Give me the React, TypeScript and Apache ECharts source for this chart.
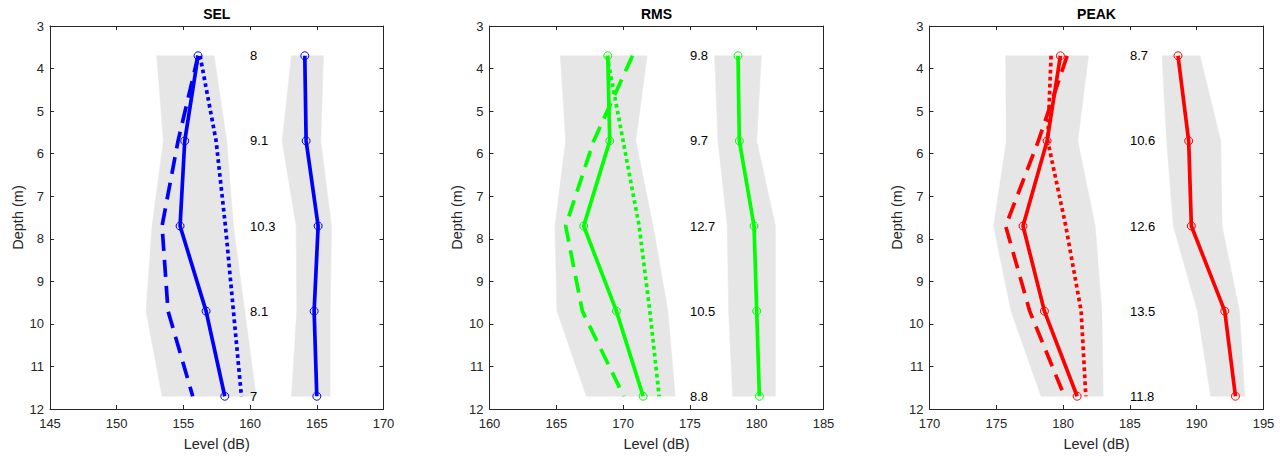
import React, { useEffect, useRef } from "react";
import * as echarts from "echarts";

const depths = [3.7, 5.7, 7.7, 9.7, 11.7];
const panelTitles = ["SEL", "RMS", "PEAK"];
const xMins = [145, 160, 170];
const xMaxs = [170, 185, 195];
const colors = ["#0000ff", "#00ff00", "#ff0000"];

// SEL
const selSolid = [156.1, 155.1, 154.75, 156.7, 158.1];
const selDashed = [156.1, 154.6, 153.4, 153.85, 155.7];
const selDotted = [156.25, 157.45, 158.15, 158.75, 159.35];
const selBandLow = [153.0, 153.5, 152.65, 152.2, 153.4];
const selBandHigh = [157.3, 158.25, 158.75, 159.6, 160.45];
const selRight = [164.1, 164.2, 165.1, 164.8, 165.0];
const selRightLow = [163.1, 162.4, 163.45, 163.5, 163.1];
const selRightHigh = [165.5, 165.3, 166.1, 166.0, 166.0];
const selNoteX = 160;
const selNotes = ["8", "9.1", "10.3", "8.1", "7"];

// RMS
const rmsSolid = [168.85, 169.0, 167.05, 169.5, 171.5];
const rmsDashed = [170.7, 167.8, 165.7, 166.95, 170.05];
const rmsDotted = [168.8, 170.0, 171.2, 172.0, 172.7];
const rmsBandLow = [165.3, 165.7, 164.9, 165.05, 167.25];
const rmsBandHigh = [171.8, 170.95, 172.25, 173.35, 173.9];
const rmsRight = [178.6, 178.7, 179.8, 180.0, 180.2];
const rmsRightLow = [176.85, 177.1, 177.8, 177.9, 178.2];
const rmsRightHigh = [180.35, 180.0, 181.4, 181.4, 181.4];
const rmsNoteX = 175;
const rmsNotes = ["9.8", "9.7", "12.7", "10.5", "8.8"];

// PEAK
const peakSolid = [179.8, 178.8, 177.0, 178.6, 181.05];
const peakDashed = [180.3, 178.15, 175.7, 177.5, 180.1];
const peakDotted = [179.1, 178.85, 180.2, 181.35, 181.7];
const peakBandLow = [175.7, 175.75, 174.8, 176.1, 178.35];
const peakBandHigh = [181.9, 181.1, 182.4, 182.9, 183.0];
const peakRight = [188.6, 189.4, 189.6, 192.1, 192.9];
const peakRightLow = [187.4, 187.75, 188.25, 190.05, 191.05];
const peakRightHigh = [190.25, 191.8, 191.9, 193.2, 193.6];
const peakNoteX = 185;
const peakNotes = ["8.7", "10.6", "12.6", "13.5", "11.8"];

const panels = [
  { solid: selSolid, dashed: selDashed, dotted: selDotted, bandLow: selBandLow, bandHigh: selBandHigh, right: selRight, rightLow: selRightLow, rightHigh: selRightHigh, noteX: selNoteX, notes: selNotes },
  { solid: rmsSolid, dashed: rmsDashed, dotted: rmsDotted, bandLow: rmsBandLow, bandHigh: rmsBandHigh, right: rmsRight, rightLow: rmsRightLow, rightHigh: rmsRightHigh, noteX: rmsNoteX, notes: rmsNotes },
  { solid: peakSolid, dashed: peakDashed, dotted: peakDotted, bandLow: peakBandLow, bandHigh: peakBandHigh, right: peakRight, rightLow: peakRightLow, rightHigh: peakRightHigh, noteX: peakNoteX, notes: peakNotes },
];

const FONT = "'Liberation Sans', Arial, Helvetica, sans-serif";
const AXIS = "#262626";
const gridLefts = [50, 489.5, 929.5];
const gridWidths = [333.5, 334, 334];
const GRID_TOP = 26;
const GRID_H = 385.3;
const LW = 3.7;

function buildOption() {
  const grid: any[] = [];
  const xAxis: any[] = [];
  const yAxis: any[] = [];
  const series: any[] = [];
  const title: any[] = [];

  panels.forEach((p, g) => {
    grid.push({ left: gridLefts[g], top: GRID_TOP, width: gridWidths[g], height: GRID_H, containLabel: false });
    title.push({
      text: panelTitles[g],
      left: gridLefts[g] + gridWidths[g] / 2,
      top: 7,
      textAlign: "center",
      padding: 0,
      textStyle: { fontFamily: FONT, fontSize: 14, fontWeight: "bold", color: "#000" },
    });
    const tickCommon = { show: true, inside: true, length: 4, lineStyle: { color: AXIS, width: 1 } };
    xAxis.push({
      type: "value", gridIndex: g, position: "bottom", min: xMins[g], max: xMaxs[g], interval: 5,
      axisLine: { show: true, onZero: false, lineStyle: { color: AXIS, width: 1 } },
      axisTick: tickCommon,
      axisLabel: { color: AXIS, fontFamily: FONT, fontSize: 13, margin: 8 },
      splitLine: { show: false },
      name: "Level (dB)", nameLocation: "middle", nameGap: 27,
      nameTextStyle: { color: AXIS, fontFamily: FONT, fontSize: 14.5 },
    });
    xAxis.push({
      type: "value", gridIndex: g, position: "top", min: xMins[g], max: xMaxs[g], interval: 5,
      axisLine: { show: true, onZero: false, lineStyle: { color: AXIS, width: 1 } },
      axisTick: tickCommon, axisLabel: { show: false }, splitLine: { show: false },
    });
    yAxis.push({
      type: "value", gridIndex: g, position: "left", min: 3, max: 12, interval: 1, inverse: true,
      axisLine: { show: true, onZero: false, lineStyle: { color: AXIS, width: 1 } },
      axisTick: tickCommon,
      axisLabel: { color: AXIS, fontFamily: FONT, fontSize: 13, margin: 6 },
      splitLine: { show: false },
      name: "Depth (m)", nameLocation: "middle", nameGap: 25,
      nameTextStyle: { color: AXIS, fontFamily: FONT, fontSize: 14.5 },
    });
    yAxis.push({
      type: "value", gridIndex: g, position: "right", min: 3, max: 12, interval: 1, inverse: true,
      axisLine: { show: true, onZero: false, lineStyle: { color: AXIS, width: 1 } },
      axisTick: tickCommon, axisLabel: { show: false }, splitLine: { show: false },
    });

    const xi = g * 2;
    const yi = g * 2;
    const band = (low: number[], high: number[]) => ({
      type: "custom", xAxisIndex: xi, yAxisIndex: yi, silent: true, z: 1,
      data: [[low[0], depths[0]]],
      renderItem: (_params: any, api: any) => {
        const pts: number[][] = [];
        depths.forEach((d, k) => pts.push(api.coord([low[k], d])));
        for (let k = depths.length - 1; k >= 0; k--) pts.push(api.coord([high[k], depths[k]]));
        return { type: "polygon", shape: { points: pts }, style: { fill: "#e6e6e6", stroke: "#e6e6e6", lineWidth: 0.5 } };
      },
    });
    series.push(band(p.bandLow, p.bandHigh));
    series.push(band(p.rightLow, p.rightHigh));

    const line = (vals: number[], type: any, markers: boolean) => ({
      type: "line", xAxisIndex: xi, yAxisIndex: yi, z: 3,
      data: vals.map((v, k) => [v, depths[k]]),
      symbol: markers ? "circle" : "none",
      symbolSize: 8,
      showSymbol: markers,
      itemStyle: { color: "rgba(0,0,0,0)", borderColor: colors[g], borderWidth: 1 },
      lineStyle: { color: colors[g], width: LW, type, cap: "butt" },
      emphasis: { disabled: true },
    });
    series.push(line(p.dashed, [17, 9], false));
    series.push(line(p.dotted, [3.7, 3.3], false));
    series.push(line(p.solid, "solid", true));
    series.push(line(p.right, "solid", true));

    series.push({
      type: "custom", xAxisIndex: xi, yAxisIndex: yi, silent: true, z: 4,
      data: depths.map((d) => [p.noteX, d]),
      renderItem: (params: any, api: any) => {
        const pt = api.coord([api.value(0), api.value(1)]);
        return {
          type: "text", x: pt[0], y: pt[1],
          style: { text: p.notes[params.dataIndex], fill: "#000", font: `13px ${FONT}`, align: "left", verticalAlign: "middle" },
        };
      },
    });
  });

  return { animation: false, backgroundColor: "#fff", title, grid, xAxis, yAxis, series };
}

export default function App() {
  const ref = useRef<HTMLDivElement>(null);
  useEffect(() => {
    if (!ref.current) return;
    const chart = echarts.init(ref.current, undefined, { renderer: "svg" });
    chart.setOption(buildOption() as any);
    return () => chart.dispose();
  }, []);
  return <div ref={ref} style={{ position: "fixed", left: 0, top: 0, width: 1284, height: 456 }} />;
}
